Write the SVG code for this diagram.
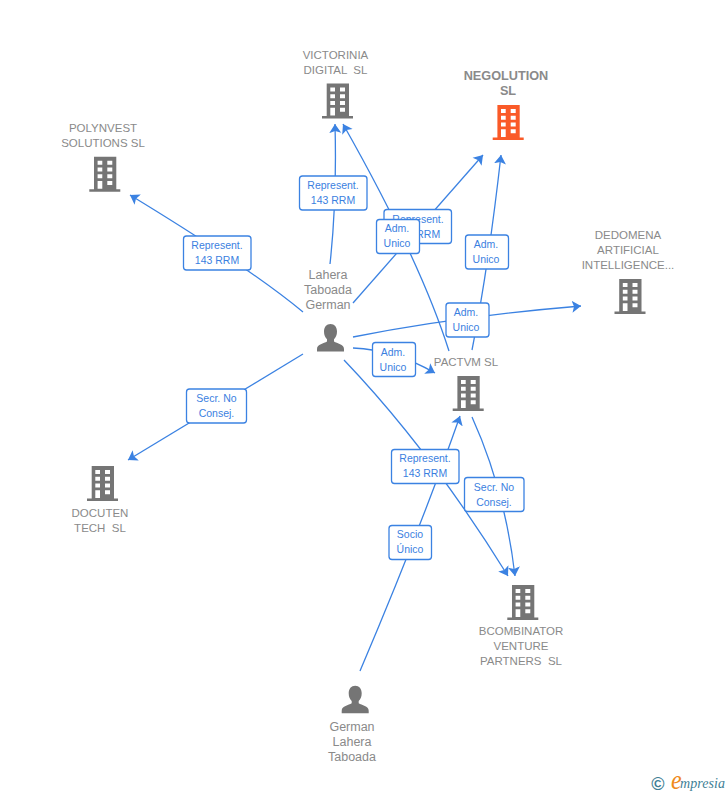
<svg xmlns="http://www.w3.org/2000/svg" width="728" height="795" viewBox="0 0 728 795">
<style>
text{font-family:"Liberation Sans",Arial,sans-serif}
.n{font-size:11.500px;fill:#8a8a8a;text-anchor:middle}
.p{font-size:12.500px;fill:#8a8a8a;text-anchor:middle}
.b{font-size:12.700px;font-weight:bold;fill:#8a8a8a;text-anchor:middle}
.e{font-size:10.500px;fill:#3b7fdf;text-anchor:middle}
.c{fill:none;stroke:#3b82e2;stroke-width:1.300;marker-end:url(#a)}
.l{fill:#fff;stroke:#3b82e2;stroke-width:1.300}
</style>
<defs>
<marker id="a" markerUnits="userSpaceOnUse" markerWidth="14" markerHeight="14" refX="9" refY="6.500" orient="auto"><path d="M0,0.500L9,6.500L0,12.500L2,6.500Z" fill="#3b82e2"/></marker>
<g id="bld"><path fill-rule="evenodd" d="M4.700,0H27V32.500H31V35H0V32.500H4.700ZM8.300,4V8H13V4ZM18,4V8H23V4ZM8.300,10.700V14.700H13V10.700ZM18,10.700V14.700H23V10.700ZM8.300,17.500V21.500H13V17.500ZM18,17.500V21.500H23V17.500ZM8.300,24.200V32H13V24.200ZM18,24.200V28.200H23V24.200Z"/></g>
<path id="per" d="M13.500,0C17.500,0 20,3 20,7.500C20,11 18.800,13.500 17,15.300V17.500C20,19.500 27,20 27,25V27.500H0V25C0,20 7,19.500 10,17.500V15.300C8.200,13.500 7,11 7,7.500C7,3 9.500,0 13.500,0Z" fill="#757575"/>
</defs>
<g id="connectors">
<path class="c" d="M330,264Q337,200 335,124"/>
<path class="c" d="M449,351Q420,260 343,124"/>
<path class="c" d="M353,303L483,155"/>
<path class="c" d="M472,350Q488,270 501,155"/>
<path class="c" d="M353,337Q460,316 581,306"/>
<path class="c" d="M353,348Q395,350 435,373"/>
<path class="c" d="M344,360Q430,450 508,576"/>
<path class="c" d="M360,671Q420,530 460,416"/>
<path class="c" d="M472,417Q505,490 515,576"/>
<path class="c" d="M303,312Q250,268 130,195"/>
<path class="c" d="M303,354L128,460"/>
</g>
<g id="edge-labels" xml:space="preserve">
<rect class="l" x="299.500" y="176" width="67.500" height="34" rx="3"/><text class="e" x="333" y="189">Represent.</text><text class="e" x="333" y="204">143 RRM</text>
<rect class="l" x="183.500" y="236" width="67.500" height="34" rx="3"/><text class="e" x="217" y="249">Represent.</text><text class="e" x="217" y="264">143 RRM</text>
<rect class="l" x="384" y="209.500" width="67.500" height="34" rx="3"/><text class="e" x="418" y="223">Represent.</text><text class="e" x="418" y="238">143 RRM</text>
<rect class="l" x="376.500" y="219.500" width="43" height="34" rx="3"/><text class="e" x="397" y="232">Adm.</text><text class="e" x="397" y="247">Unico</text>
<rect class="l" x="465.500" y="235" width="43" height="34" rx="3"/><text class="e" x="486" y="248">Adm.</text><text class="e" x="486" y="263">Unico</text>
<rect class="l" x="446" y="303" width="43" height="34" rx="3"/><text class="e" x="466" y="316">Adm.</text><text class="e" x="466" y="331">Unico</text>
<rect class="l" x="372.500" y="342.500" width="43" height="34" rx="3"/><text class="e" x="393" y="356">Adm.</text><text class="e" x="393" y="371">Unico</text>
<rect class="l" x="186.500" y="389" width="60" height="34" rx="3"/><text class="e" x="216.500" y="402">Secr.  No</text><text class="e" x="216.500" y="417">Consej.</text>
<rect class="l" x="391.500" y="449.500" width="67.500" height="34" rx="3"/><text class="e" x="425" y="462">Represent.</text><text class="e" x="425" y="477">143 RRM</text>
<rect class="l" x="464.500" y="477.500" width="59.500" height="34" rx="3"/><text class="e" x="494" y="491">Secr.  No</text><text class="e" x="494" y="506">Consej.</text>
<rect class="l" x="389" y="525.500" width="42.500" height="34" rx="3"/><text class="e" x="410" y="538">Socio</text><text class="e" x="410" y="553">Único</text>
</g>
<g id="victorinia"><text class="n" x="335.500" y="59" xml:space="preserve">VICTORINIA</text><text class="n" x="335.500" y="74" xml:space="preserve">DIGITAL  SL</text><use href="#bld" x="322" y="83.500" fill="#757575"/></g>
<g id="negolution"><text class="b" x="506" y="80">NEGOLUTION</text><text class="b" x="508" y="95">SL</text><use href="#bld" x="492.700" y="105" fill="#fa5a28"/></g>
<g id="polynvest"><text class="n" x="103" y="132">POLYNVEST</text><text class="n" x="103" y="147">SOLUTIONS SL</text><use href="#bld" x="89.300" y="156.700" fill="#757575"/></g>
<g id="dedomena"><text class="n" x="628" y="239">DEDOMENA</text><text class="n" x="628" y="254">ARTIFICIAL</text><text class="n" x="628" y="269">INTELLIGENCE...</text><use href="#bld" x="614.500" y="279" fill="#757575"/></g>
<g id="pactvm"><text class="n" x="466" y="366">PACTVM SL</text><use href="#bld" x="452.700" y="376" fill="#757575"/></g>
<g id="docuten"><use href="#bld" x="87" y="466" fill="#757575"/><text class="n" x="100" y="517">DOCUTEN</text><text class="n" x="100" y="532" xml:space="preserve">TECH  SL</text></g>
<g id="bcombinator"><use href="#bld" x="507.300" y="585" fill="#757575"/><text class="n" x="521" y="635">BCOMBINATOR</text><text class="n" x="521" y="650">VENTURE</text><text class="n" x="521" y="665" xml:space="preserve">PARTNERS  SL</text></g>
<g id="lahera"><text class="p" x="328" y="279">Lahera</text><text class="p" x="328" y="294">Taboada</text><text class="p" x="328" y="309">German</text><use href="#per" x="317" y="324"/></g>
<g id="german"><use href="#per" x="341.700" y="685.700"/><text class="p" x="352" y="731">German</text><text class="p" x="352" y="746">Lahera</text><text class="p" x="352" y="761">Taboada</text></g>
<g id="logo"><text x="658" y="790" font-size="18" font-weight="bold" fill="#3f7f96" text-anchor="middle">©</text><text transform="translate(671,788.500) scale(1,1.150)" style="font-family:'Liberation Serif',serif;font-style:italic" font-size="24" fill="#f08a1c">e</text><text x="680" y="788" style="font-family:'Liberation Serif',serif;font-style:italic" font-size="14" fill="#3f7f96" textLength="45">mpresia</text></g>
</svg>
